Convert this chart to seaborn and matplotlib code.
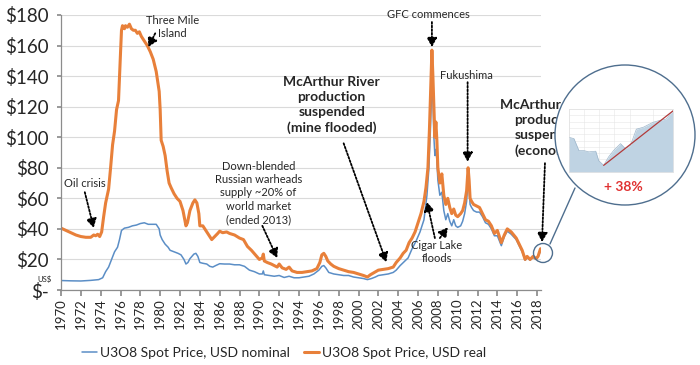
import matplotlib
matplotlib.use("Agg")
import matplotlib.pyplot as plt
from matplotlib.patches import Ellipse
from matplotlib.lines import Line2D
from matplotlib.transforms import ScaledTranslation
import seaborn as sns

# %% U3O8 spot price, US$/lb
real_year = [
    1970.0, 1970.5, 1971.0, 1971.5, 1972.0, 1972.5, 1973.0, 1973.3, 1973.5, 1973.7,
    1973.9, 1974.1, 1974.3, 1974.5, 1974.8, 1975.0, 1975.2, 1975.4, 1975.6, 1975.8,
    1975.9, 1976.0, 1976.1, 1976.2, 1976.4, 1976.5, 1976.7, 1976.9, 1977.1, 1977.3,
    1977.5, 1977.7, 1977.9, 1978.1, 1978.4, 1978.7, 1979.0, 1979.3, 1979.6, 1979.9,
    1980.0, 1980.1, 1980.3, 1980.5, 1980.7, 1980.9, 1981.1, 1981.4, 1981.7, 1982.0,
    1982.3, 1982.6, 1982.75, 1983.0, 1983.3, 1983.5, 1983.7, 1983.9, 1984.0, 1984.3,
    1984.6, 1984.9, 1985.2, 1985.5, 1985.8, 1986.0, 1986.3, 1986.7, 1987.0, 1987.5,
    1988.0, 1988.4, 1988.8, 1989.2, 1989.6, 1990.0, 1990.3, 1990.4, 1990.5, 1990.8,
    1991.2, 1991.5, 1991.8, 1992.0, 1992.3, 1992.7, 1993.0, 1993.3, 1993.8, 1994.3,
    1994.8, 1995.3, 1995.8, 1996.1, 1996.3, 1996.5, 1996.7, 1996.9, 1997.2, 1997.5,
    1998.0, 1998.5, 1999.0, 1999.5, 2000.0, 2000.5, 2000.9, 2001.2, 2001.6, 2002.0,
    2002.5, 2003.0, 2003.5, 2003.8, 2004.2, 2004.5, 2004.8, 2005.1, 2005.4, 2005.7,
    2006.0, 2006.3, 2006.6, 2006.8, 2007.0, 2007.15, 2007.3, 2007.4, 2007.5, 2007.6,
    2007.7, 2007.8, 2007.9, 2008.0, 2008.2, 2008.4, 2008.6, 2008.8, 2009.0, 2009.2,
    2009.4, 2009.6, 2009.8, 2010.0, 2010.3, 2010.5, 2010.7, 2010.9, 2011.05, 2011.15,
    2011.25, 2011.4, 2011.6, 2011.9, 2012.2, 2012.5, 2012.8, 2013.1, 2013.4, 2013.7,
    2014.0, 2014.4, 2014.7, 2015.0, 2015.4, 2015.9, 2016.2, 2016.5, 2016.8, 2017.0,
    2017.3, 2017.6, 2017.9, 2018.1, 2018.25, 2018.35,
]
real_price = [
    40.5, 39, 37.5, 36, 35, 34.5, 34.5, 36, 35.5, 36.5,
    35, 38, 48, 57, 66, 80, 95, 104, 118, 124,
    140, 155, 170, 173, 171, 173, 172, 174, 171, 170,
    170, 168, 169, 166, 163, 160, 156, 151, 143, 130,
    118, 98, 94, 88, 78, 70, 67, 63, 60, 58,
    52, 42, 44, 52, 57, 59, 57, 50, 42, 42,
    39, 36, 33, 35, 37, 38.5, 37.5, 38, 37, 36,
    34, 33, 28.5, 26, 23, 20, 21, 23.5, 19, 18,
    17, 16, 15, 17, 14.5, 13.5, 15, 12.5, 11.5, 11.5,
    12, 12.5, 14, 18, 23, 24, 22, 19, 17, 15.5,
    14, 13, 12, 11.5, 10.5, 9.5, 8.5, 10, 11.5, 13,
    13.5, 14, 15, 18, 21, 24, 26, 31, 34, 38,
    44, 50, 58, 67, 80, 105, 135, 157, 140, 120,
    100, 110, 98, 80, 70, 76, 62, 56, 60, 54,
    50, 53, 49, 48, 50, 52, 57, 65, 80, 72,
    60, 58, 56, 55, 54, 50, 46, 45, 42, 37,
    39, 31, 36, 40, 38, 34, 30, 26, 20, 22,
    20, 22, 20.5, 22, 25, 27,
]

nominal_year = [
    1970.0, 1971.0, 1972.0, 1973.0, 1973.8, 1974.2, 1974.5, 1974.8, 1975.1, 1975.4,
    1975.7, 1975.9, 1976.1, 1976.4, 1976.8, 1977.2, 1977.6, 1978.0, 1978.4, 1978.8,
    1979.2, 1979.6, 1979.9, 1980.0, 1980.2, 1980.5, 1980.8, 1981.0, 1981.4, 1981.8,
    1982.1, 1982.4, 1982.6, 1982.8, 1983.0, 1983.4, 1983.6, 1983.8, 1984.0, 1984.3,
    1984.7, 1985.0, 1985.3, 1985.6, 1986.0, 1986.5, 1987.0, 1987.5, 1988.0, 1988.5,
    1989.0, 1989.5, 1990.0, 1990.3, 1990.4, 1990.5, 1991.0, 1991.5, 1992.0, 1992.5,
    1993.0, 1993.5, 1994.0, 1994.5, 1995.0, 1995.5, 1996.0, 1996.3, 1996.5, 1996.7,
    1997.0, 1997.5, 1998.0, 1998.5, 1999.0, 1999.5, 2000.0, 2000.5, 2000.9, 2001.3,
    2001.7, 2002.0, 2002.5, 2003.0, 2003.5, 2003.8, 2004.2, 2004.6, 2005.0, 2005.4,
    2005.8, 2006.2, 2006.6, 2006.9, 2007.1, 2007.25, 2007.4, 2007.5, 2007.6, 2007.7,
    2007.8, 2007.9, 2008.0, 2008.2, 2008.4, 2008.6, 2008.8, 2009.0, 2009.2, 2009.4,
    2009.6, 2009.8, 2010.0, 2010.3, 2010.5, 2010.7, 2010.9, 2011.05, 2011.15, 2011.25,
    2011.4, 2011.6, 2011.9, 2012.2, 2012.5, 2012.8, 2013.1, 2013.4, 2013.7, 2014.0,
    2014.4, 2014.7, 2015.0, 2015.4, 2015.9, 2016.2, 2016.5, 2016.8, 2017.0, 2017.3,
    2017.6, 2017.9, 2018.1, 2018.25, 2018.35,
]
nominal_price = [
    6.2, 6.0, 5.9, 6.3, 6.8, 8, 12, 15, 20, 25,
    28, 33, 39, 40.5, 41, 42, 42.5, 43.5, 44, 43,
    43, 43, 40, 36, 33, 30, 28, 26, 25, 24,
    23, 20, 17, 18, 20.5, 23.5, 24, 22, 18, 17.5,
    17, 15.5, 15, 16, 17.2, 17, 17, 16.5, 16.5, 15.5,
    13, 12, 10.5, 10.5, 12.5, 10, 9.5, 9, 9.5, 8.2,
    9, 8, 8, 8.5, 9, 10.5, 13, 15.5, 16, 14.5,
    11.5, 10.5, 10, 9.5, 9.5, 8.5, 8, 7.5, 6.8, 7.5,
    8.5, 9.5, 10, 10.5, 11.5, 13, 16, 18.5, 21, 27,
    32, 38, 46, 62, 80, 105, 135, 125, 100, 88,
    92, 85, 72, 62, 64, 52, 46, 50, 45, 42,
    46, 42, 41, 42, 45, 50, 58, 72, 66, 56,
    54, 52, 51, 51, 48, 44, 43, 40, 35.5, 35.5,
    29, 35, 38.5, 36.5, 33, 29, 25, 19.5, 21.5, 19.5,
    21.5, 20, 21.5, 24, 26,
]

# zoomed-in recent price (inset)
inset_day = [0, 5, 10, 15, 20, 27, 30, 35, 40, 45, 52, 57, 62, 68, 75, 85, 92, 98, 105]
inset_price = [55, 53, 34, 34, 32, 33, 18, 10.5, 24, 34, 45, 37, 42, 68, 71, 79, 82, 84, 97]

year_ticks = list(range(1970, 2019, 2))
price_ticks = list(range(0, 181, 20))
price_labels = ["$-"] + [f"${p}" for p in price_ticks[1:]]

BLUE = "#5B8EC6"
ORANGE = "#E8803A"

sns.set_theme(style="white")
plt.rcParams["font.family"] = ["Lato", "DejaVu Sans"]

fig = plt.figure(figsize=(7, 3.65), dpi=100)
ax = fig.add_axes([61 / 700, 1 - 290 / 365, 480 / 700, 275 / 365])

sns.lineplot(x=nominal_year, y=nominal_price, ax=ax, color=BLUE, lw=1.1,
             label="U3O8 Spot Price, USD nominal")
sns.lineplot(x=real_year, y=real_price, ax=ax, color=ORANGE, lw=2.2,
             label="U3O8 Spot Price, USD real")

ax.set_xlim(1970, 2018.4)
ax.set_ylim(0, 180)
ax.set_xticks(year_ticks)
ax.set_xticklabels([str(y) for y in year_ticks], rotation=90, fontsize=9.5)
ax.set_yticks(price_ticks)
ax.set_yticklabels(price_labels, fontsize=13.5)
# accounting-style "$-" sits further left than the other labels
zero_label = ax.get_yticklabels()[0]
zero_label.set_transform(zero_label.get_transform()
                         + ScaledTranslation(-0.16, 0, fig.dpi_scale_trans))
ax.yaxis.grid(True, color="#DADADA", lw=0.8)
ax.set_axisbelow(True)
for side in ["top", "right"]:
    ax.spines[side].set_visible(False)
for side in ["left", "bottom"]:
    ax.spines[side].set_color("#8C8C8C")
    ax.spines[side].set_linewidth(0.9)
ax.tick_params(axis="x", bottom=True, length=4, color="#8C8C8C", pad=2)
ax.tick_params(axis="y", left=True, length=3, color="#8C8C8C", pad=6)
ax.set_xlabel("")
ax.set_ylabel("")

ax.legend(loc="center", bbox_to_anchor=(0.406, 0.033), bbox_transform=fig.transFigure,
          ncol=2, frameon=False, fontsize=10, handlelength=1.1, handletextpad=0.2,
          columnspacing=1.0)

fig.text(45 / 700, 1 - 279 / 365, "US$", fontsize=5.5, ha="center", va="center")


def dotted_arrow(start, end):
    ax.annotate("", xy=end, xytext=start, annotation_clip=False,
                arrowprops=dict(arrowstyle="-|>,head_length=0.45,head_width=0.25",
                                color="black", lw=1.3, linestyle=(0, (1, 1)),
                                shrinkA=0, shrinkB=0))


note = dict(fontsize=8, ha="center", va="center", linespacing=1.25)
bold = dict(fontsize=10, ha="center", va="center", fontweight="bold", linespacing=1.3)

ax.text(1972.4, 70, "Oil crisis", **note)
dotted_arrow((1972.4, 64), (1973.3, 40.6))

ax.text(1981.2, 172, "Three Mile\nIsland", **note)
dotted_arrow((1979.5, 168), (1978.8, 159))

ax.text(1989.9, 63.5, "Down-blended\nRussian warheads\nsupply ~20% of\nworld market\n(ended 2013)", **note)
dotted_arrow((1990.3, 42), (1991.8, 21))

ax.text(1997.3, 121, "McArthur River\nproduction\nsuspended\n(mine flooded)", **bold)
dotted_arrow((1998.5, 96), (2002.8, 18.3))

ax.text(2007.0, 180, "GFC commences", **note)
dotted_arrow((2007.4, 175.4), (2007.4, 159))

ax.text(2010.9, 140.7, "Fukushima", **note)
dotted_arrow((2011.0, 136), (2011.0, 84))

ax.text(2007.9, 24.9, "Cigar Lake\nfloods", **note)
dotted_arrow((2007.7, 34), (2006.9, 57.6))
dotted_arrow((2008.2, 34), (2009.0, 41))

# partly hidden behind the magnifier circle, as in the source slide
ax.text(2019.1, 106, "McArthur River\nproduction\nsuspended\n(economic)", **bold)
dotted_arrow((2018.8, 83), (2018.5, 31.4))

# magnifier circles
RING = "#4E6E8E"
fig.add_artist(Ellipse((543 / 700, 1 - 253 / 365), 19 / 700, 19 / 365,
                       transform=fig.transFigure, fill=False, ec=RING, lw=1, zorder=3))
fig.add_artist(Line2D([550 / 700, 575 / 700], [1 - 244 / 365, 1 - 188 / 365],
                      transform=fig.transFigure, color=RING, lw=1, zorder=3))
fig.add_artist(Ellipse((625 / 700, 1 - 135 / 365), 140 / 700, 140 / 365,
                       transform=fig.transFigure, fc="white", ec=RING, lw=1, zorder=3))

ins = fig.add_axes([569 / 700, 1 - 172 / 365, 104 / 700, 63 / 365], zorder=5)
ins.fill_between(inset_day, inset_price, color="#BFD3E3", lw=0)
ins.plot(inset_day, inset_price, color="#9DB6CB", lw=0.5)
lo = inset_price.index(min(inset_price))
ins.plot([inset_day[lo], inset_day[-1]], [inset_price[lo], inset_price[-1]],
         color="#B23A3A", lw=0.9)
ins.set_xlim(inset_day[0], inset_day[-1])
ins.set_ylim(0, 100)
ins.set_xticks(inset_day[::3])
ins.set_xticklabels([])
ins.set_yticks(range(0, 101, 10))
ins.set_yticklabels([])
ins.tick_params(length=0)
ins.grid(True, color="#E6E6E6", lw=0.4)
for s in ins.spines.values():
    s.set_color("#DDDDDD")
    s.set_linewidth(0.4)

fig.text(623 / 700, 1 - 187 / 365, "+ 38%", color="#E03131", fontsize=10,
         fontweight="bold", ha="center", va="center", zorder=6)

fig.savefig("out.png", dpi=100)
